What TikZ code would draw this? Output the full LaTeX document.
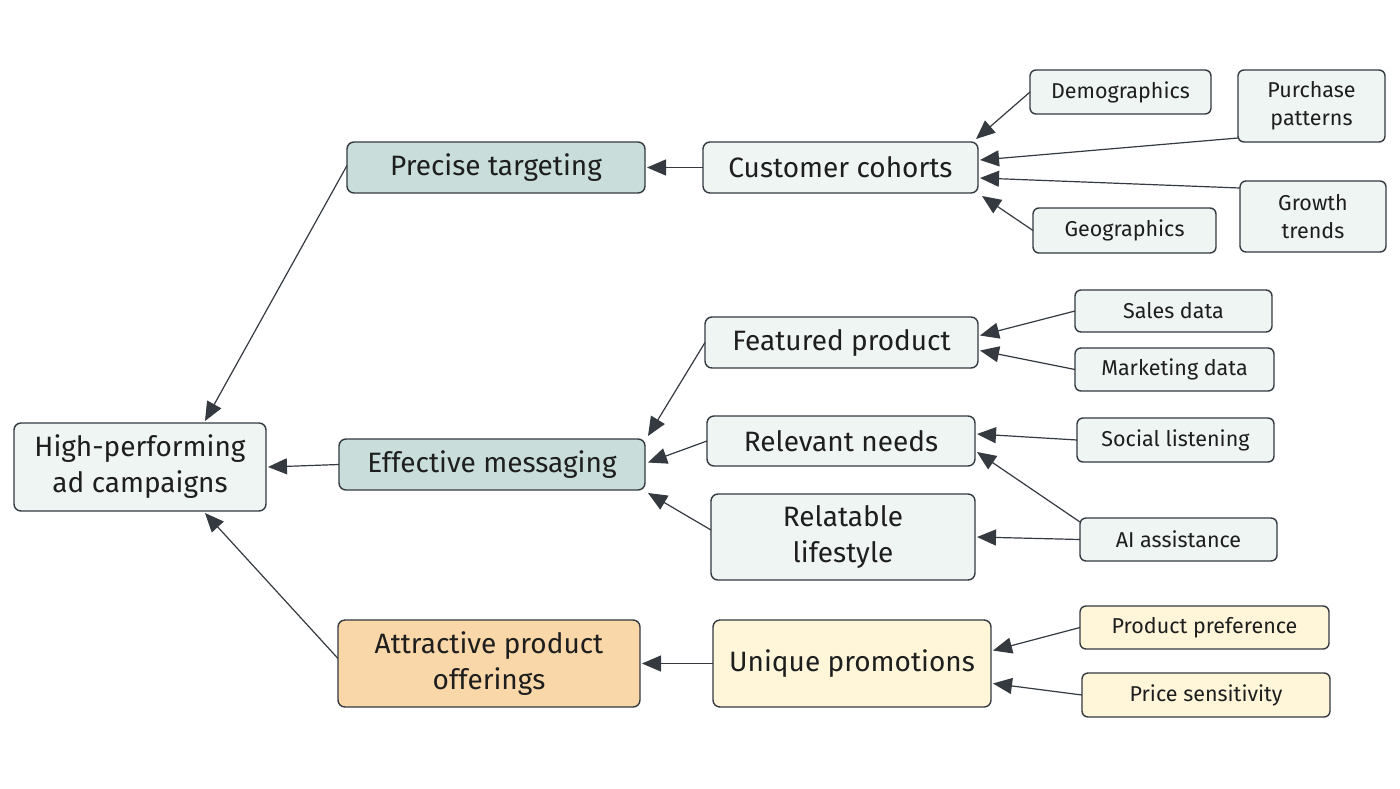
\documentclass[tikz,border=0pt]{standalone}
\usepackage{fontspec}
\setmainfont{Fira Sans}
\usetikzlibrary{arrows.meta}
\definecolor{ink}{RGB}{52,58,64}
\definecolor{txt}{RGB}{30,30,30}
\definecolor{lightteal}{RGB}{238,245,243}
\definecolor{midteal}{RGB}{201,222,218}
\definecolor{orangef}{RGB}{250,215,168}
\definecolor{yellowf}{RGB}{255,246,218}
\tikzset{
  box/.style={draw=ink, line width=1.4pt, rounded corners=7pt, inner sep=0pt, outer sep=0pt,
    align=center, text=txt, font=\fontsize{28}{36}\selectfont},
  small/.style={box, rounded corners=6pt, font=\fontsize{21.5}{28}\selectfont},
  conn/.style={draw=ink, line width=1.2pt, -{Triangle[length=19pt,width=16pt]}},
}
\begin{document}
\begin{tikzpicture}[x=1pt,y=-1pt]
\fill[white] (0,0) rectangle (1400,788);
\useasboundingbox (0,0) rectangle (1400,788);
% main
\node[box, fill=lightteal, minimum width=252pt, minimum height=88pt] (hp) at (140,467) {High-performing\\ad campaigns};
\node[box, fill=midteal, minimum width=298pt, minimum height=51pt] (pt) at (496,167.5) {Precise targeting};
\node[box, fill=midteal, minimum width=306pt, minimum height=51pt] (em) at (492,464.5) {Effective messaging};
\node[box, fill=orangef, minimum width=302pt, minimum height=87pt] (ap) at (489,663.5) {Attractive product\\offerings};
% second level
\node[box, fill=lightteal, minimum width=275pt, minimum height=51pt] (cc) at (840.5,167.5) {Customer cohorts};
\node[box, fill=lightteal, minimum width=273pt, minimum height=51pt] (fp) at (841.5,342.5) {Featured product};
\node[box, fill=lightteal, minimum width=268pt, minimum height=50pt] (rn) at (841,441) {Relevant needs};
\node[box, fill=lightteal, minimum width=264pt, minimum height=86pt] (rl) at (843,537) {Relatable\\lifestyle};
\node[box, fill=yellowf, minimum width=278pt, minimum height=87pt] (up) at (852,663.5) {Unique promotions};
% leaves
\node[small, fill=lightteal, minimum width=181pt, minimum height=44pt] (demo) at (1120.5,92) {Demographics};
\node[small, fill=lightteal, minimum width=147pt, minimum height=72pt] (pp) at (1311.5,106) {Purchase\\patterns};
\node[small, fill=lightteal, minimum width=146pt, minimum height=71pt] (gt) at (1313,216.5) {Growth\\trends};
\node[small, fill=lightteal, minimum width=183pt, minimum height=45pt] (geo) at (1124.5,230.5) {Geographics};
\node[small, fill=lightteal, minimum width=197pt, minimum height=42pt] (sd) at (1173.5,311) {Sales data};
\node[small, fill=lightteal, minimum width=199pt, minimum height=43pt] (md) at (1174.5,369.5) {Marketing data};
\node[small, fill=lightteal, minimum width=197pt, minimum height=44pt] (sl) at (1175.5,440) {Social listening};
\node[small, fill=lightteal, minimum width=197pt, minimum height=43pt] (ai) at (1178.5,539.5) {AI assistance};
\node[small, fill=yellowf, minimum width=249pt, minimum height=43pt] (ppref) at (1204.5,627.5) {Product preference};
\node[small, fill=yellowf, minimum width=248pt, minimum height=44pt] (ps) at (1206,695) {Price sensitivity};
% connectors
\draw[conn] ([yshift=2pt]pt.west) -- ([xshift=65pt,yshift=2pt]hp.north);
\draw[conn] (em.west) -- ([xshift=2pt]hp.east);
\draw[conn] ([yshift=5pt]ap.west) -- ([xshift=65pt,yshift=-2pt]hp.south);
\draw[conn] (cc.west) -- ([xshift=2pt]pt.east);
\draw[conn] (demo.west) -- ([xshift=-2pt,yshift=3pt]cc.north east);
\draw[conn] ([yshift=4pt]pp.south west) -- ([xshift=2pt,yshift=7.5pt]cc.east);
\draw[conn] ([yshift=-7pt]gt.north west) -- ([xshift=2pt,yshift=-10.5pt]cc.east);
\draw[conn] (geo.west) -- ([xshift=4pt,yshift=-3pt]cc.south east);
\draw[conn] (fp.west) -- ([xshift=3pt,yshift=3pt]em.north east);
\draw[conn] (rn.west) -- ([xshift=3pt,yshift=2pt]em.east);
\draw[conn] ([yshift=7pt]rl.west) -- ([xshift=3pt,yshift=-3pt]em.south east);
\draw[conn] (sd.west) -- ([xshift=2pt,yshift=7pt]fp.east);
\draw[conn] (md.west) -- ([xshift=2pt,yshift=-8pt]fp.east);
\draw[conn] (sl.west) -- ([xshift=2pt,yshift=7pt]rn.east);
\draw[conn] ([yshift=-4pt]ai.north west) -- ([xshift=2pt,yshift=-11pt]rn.east);
\draw[conn] (ai.west) -- ([xshift=2pt]rl.east);
\draw[conn] (up.west) -- ([xshift=2pt]ap.east);
\draw[conn] (ppref.west) -- ([xshift=2pt,yshift=13pt]up.east);
\draw[conn] (ps.west) -- ([xshift=2pt,yshift=-20pt]up.east);
\end{tikzpicture}
\end{document}
